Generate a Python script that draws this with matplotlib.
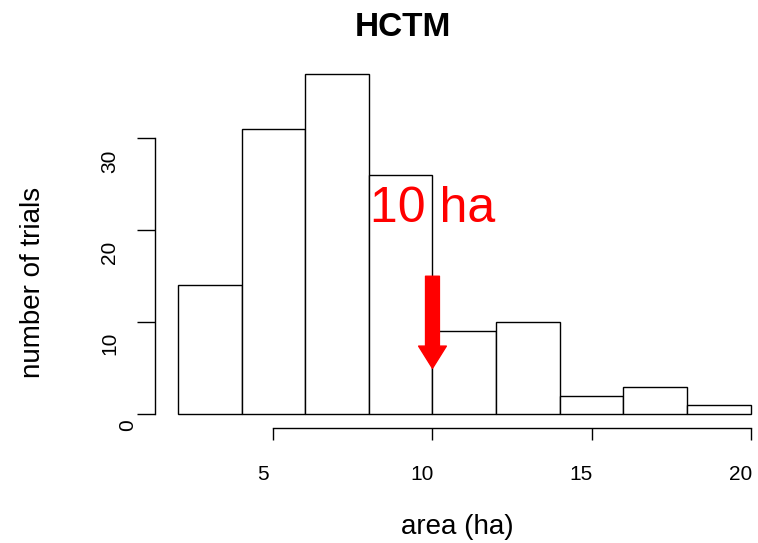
import matplotlib
matplotlib.use("Agg")
import matplotlib.pyplot as plt
from matplotlib.transforms import offset_copy

plt.rcParams["font.family"] = ["Liberation Sans", "DejaVu Sans"]

# histogram data (bin edges and counts)
bin_edges = [2, 4, 6, 8, 10, 12, 14, 16, 18, 20]
counts = [14, 31, 37, 26, 9, 10, 2, 3, 1]

x_ticks = [5, 10, 15, 20]
x_tick_labels = ["5", "10", "15", "20"]
y_ticks = [0, 10, 20, 30]
y_tick_labels = ["0", "10", "20", "30"]

marker_x = 10
marker_text = "10 ha"
arrow_from = 15
arrow_to = 5
text_y = 20.9

W, H = 758, 543
fig = plt.figure(figsize=(W / 100, H / 100), dpi=100)
ax = fig.add_axes([155 / W, 1 - 428 / H, 618.6 / W, 368 / H])

widths = [b - a for a, b in zip(bin_edges[:-1], bin_edges[1:])]
ax.bar(bin_edges[:-1], counts, width=widths, align="edge",
       color="white", edgecolor="black", linewidth=1.0)

ax.set_xlim(1.28, 20.72)
ax.set_ylim(-1.48, 38.48)

for s in ["top", "right"]:
    ax.spines[s].set_visible(False)
ax.spines["bottom"].set_bounds(x_ticks[0], x_ticks[-1])
ax.spines["left"].set_bounds(y_ticks[0], y_ticks[-1])
ax.spines["bottom"].set_linewidth(1.0)
ax.spines["left"].set_linewidth(1.0)

ax.set_xticks(x_ticks)
ax.set_yticks(y_ticks)
ax.set_xticklabels([])
ax.set_yticklabels([])
ax.tick_params(axis="x", length=8.6, width=1.0, color="black")
ax.tick_params(axis="y", length=13, width=1.0, color="black")

# tick labels, nudged like the original device output
xt = ax.get_xaxis_transform()
for v, lab in zip(x_ticks, x_tick_labels):
    tr = offset_copy(xt, fig=fig, x=-7.5, y=0, units="points")
    ax.text(v, -(474 - 428) / 368, lab, transform=tr, ha="center", va="center",
            fontsize=15)

yt = ax.get_yaxis_transform()
y_nudge = [(13, -8), (0, -15), (0, -16), (0, -17)]
for v, lab, (dx, dy) in zip(y_ticks, y_tick_labels, y_nudge):
    tr = offset_copy(yt, fig=fig, x=dx, y=dy, units="points")
    ax.text(-(155 - 110) / 618.6, v, lab, transform=tr, rotation=90,
            ha="center", va="center", fontsize=15)

# red annotation
ax.annotate("", xy=(marker_x, arrow_to), xytext=(marker_x, arrow_from),
            arrowprops=dict(facecolor="red", edgecolor="red", width=10,
                            headwidth=20, headlength=16, shrink=0),
            zorder=5)
ax.text(marker_x, text_y, marker_text, color="red", fontsize=36,
        ha="center", va="baseline", zorder=6)

fig.text(403 / W, 1 - 27 / H, "HCTM", fontsize=24, fontweight="bold",
         ha="center", va="center")
fig.text(457 / W, 1 - 527 / H, "area (ha)", fontsize=20,
         ha="center", va="center")
fig.text(33 / W, 1 - 282 / H, "number of trials", fontsize=20, rotation=90,
         ha="center", va="center")

fig.savefig("out.png", dpi=100)
